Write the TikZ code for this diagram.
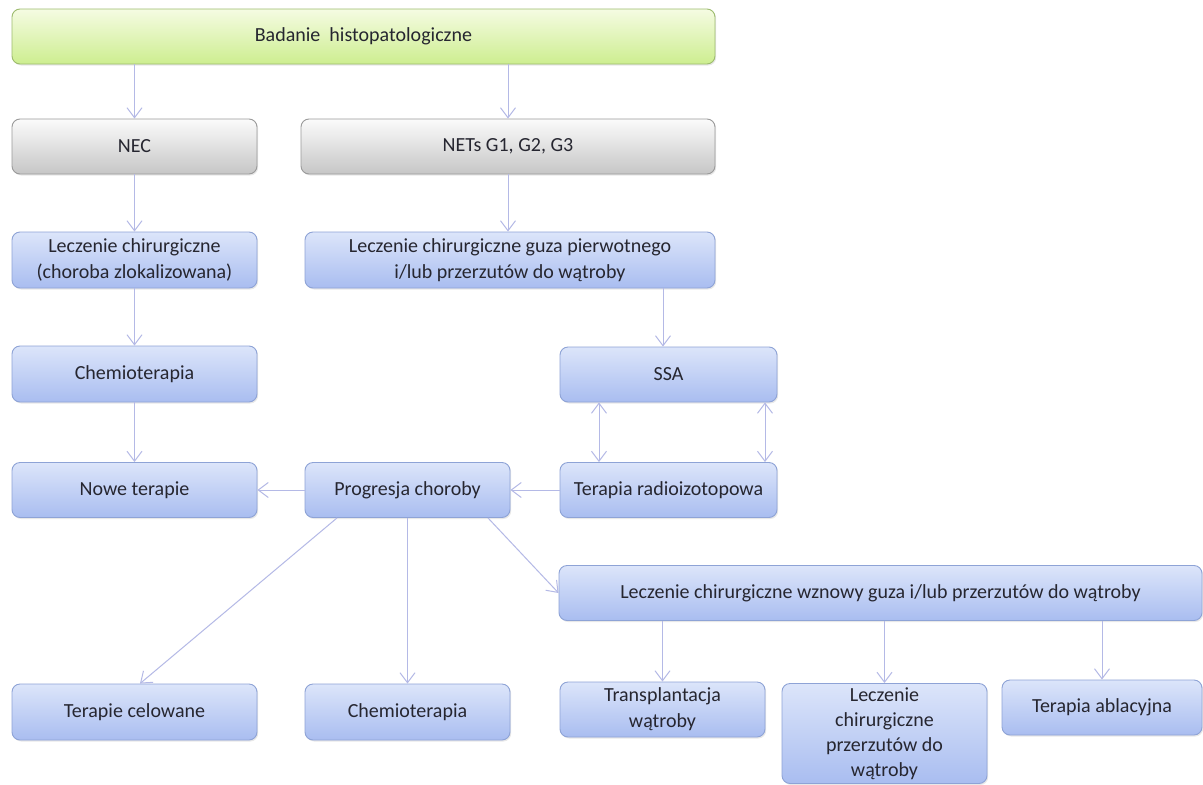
\documentclass[tikz,border=0pt]{standalone}
\usepackage{fontspec}
\setmainfont{Carlito}
\usetikzlibrary{arrows.meta,shadows,positioning}
\definecolor{txt}{HTML}{262630}
\definecolor{bluetop}{HTML}{DCE5FA}
\definecolor{bluebot}{HTML}{A9BDF0}
\definecolor{blueedge}{HTML}{8EA3D6}
\definecolor{greentop}{HTML}{F5FBE2}
\definecolor{greenbot}{HTML}{CDEE90}
\definecolor{greenedge}{HTML}{9DBB6E}
\definecolor{graytop}{HTML}{FBFBFB}
\definecolor{graybot}{HTML}{C6C6C6}
\definecolor{grayedge}{HTML}{9A9A9A}
\definecolor{arrowcol}{HTML}{B4B9E6}
\tikzset{
  box/.style={rectangle, rounded corners=8pt, line width=0.9pt, align=center,
    inner sep=2pt, text=txt,
    font=\fontsize{20}{26}\selectfont,
    drop shadow={shadow xshift=1.2pt, shadow yshift=-1.5pt, opacity=0.18}},
  bluebox/.style={box, draw=blueedge, top color=bluetop, bottom color=bluebot},
  greenbox/.style={box, draw=greenedge, top color=greentop, bottom color=greenbot},
  graybox/.style={box, draw=grayedge, top color=graytop, bottom color=graybot},
  conn/.style={draw=arrowcol, line width=1pt, -{Straight Barb[length=10pt,width=15pt]}},
  dconn/.style={draw=arrowcol, line width=1pt, {Straight Barb[length=10pt,width=15pt]}-{Straight Barb[length=10pt,width=15pt]}}
}
\begin{document}
\begin{tikzpicture}[x=1pt,y=-1pt]
\useasboundingbox[fill=white] (0,0) rectangle (1203,785);

\node[greenbox, minimum width=703pt, minimum height=55pt] (top) at (363.5,36.5) {Badanie~~histopatologiczne};

\node[graybox, minimum width=245pt, minimum height=55pt] (nec) at (134.5,146.5) {NEC};
\node[graybox, minimum width=414pt, minimum height=55pt] (nets) at (508,146.5) {NETs G1, G2, G3};

\node[bluebox, minimum width=245pt, minimum height=56pt] (lch1) at (134.5,260) {Leczenie chirurgiczne\\(choroba zlokalizowana)};
\node[bluebox, minimum width=410pt, minimum height=56pt] (lch2) at (510,260) {Leczenie chirurgiczne guza pierwotnego\\i/lub przerzutów do wątroby};

\node[bluebox, minimum width=245pt, minimum height=56pt] (chemo1) at (134.5,374) {Chemioterapia};
\node[bluebox, minimum width=217pt, minimum height=55pt] (ssa) at (668.5,374.5) {SSA};

\node[bluebox, minimum width=245pt, minimum height=55pt] (nowe) at (134.5,490) {Nowe terapie};
\node[bluebox, minimum width=205pt, minimum height=55pt] (prog) at (407.5,490) {Progresja choroby};
\node[bluebox, minimum width=217pt, minimum height=55pt] (radio) at (668.5,490) {Terapia radioizotopowa};

\node[bluebox, minimum width=643pt, minimum height=55pt] (wzn) at (880.5,593) {Leczenie chirurgiczne wznowy guza i/lub przerzutów do wątroby};

\node[bluebox, minimum width=245pt, minimum height=56pt] (cel) at (134.5,712) {Terapie celowane};
\node[bluebox, minimum width=205pt, minimum height=56pt] (chemo2) at (407.5,712) {Chemioterapia};
\node[bluebox, minimum width=205pt, minimum height=55pt] (trans) at (662.5,709.5) {Transplantacja\\wątroby};
\node[bluebox, minimum width=205pt, minimum height=100pt, font=\fontsize{20}{25}\selectfont] (lprz) at (884.5,733.5) {Leczenie\\chirurgiczne\\przerzutów do\\wątroby};
\node[bluebox, minimum width=200pt, minimum height=55pt] (abl) at (1102,707.5) {Terapia ablacyjna};

% connectors
\draw[conn] (top.south -| nec.north) -- (nec.north);
\draw[conn] (top.south -| nets.north) -- (nets.north);
\draw[conn] (nec.south) -- (lch1.north);
\draw[conn] (nets.south) -- (nets.south |- lch2.north);
\coordinate (ssain) at ([xshift=-5.5pt]ssa.north);
\draw[conn] (lch2.south -| ssain) -- (ssain);
\draw[conn] (lch1.south) -- (chemo1.north);
\draw[conn] (chemo1.south) -- (nowe.north);
\coordinate (dA) at ([xshift=-69.5pt]ssa.south);
\coordinate (dB) at ([xshift=96.5pt]ssa.south);
\draw[dconn] (dA) -- (dA |- radio.north);
\draw[dconn] (dB) -- (dB |- radio.north);
\draw[conn] (radio.west) -- (prog.east);
\draw[conn] (prog.west) -- (nowe.east);
\draw[conn] ([xshift=-70.5pt]prog.south) -- ([xshift=5.5pt]cel.north);
\draw[conn] (prog.south) -- (chemo2.north);
\draw[conn] ([xshift=80.5pt]prog.south) -- (wzn.west);
\draw[conn] (wzn.south -| trans.north) -- (trans.north);
\draw[conn] (wzn.south -| lprz.north) -- (lprz.north);
\draw[conn] (wzn.south -| abl.north) -- (abl.north);
\end{tikzpicture}
\end{document}
